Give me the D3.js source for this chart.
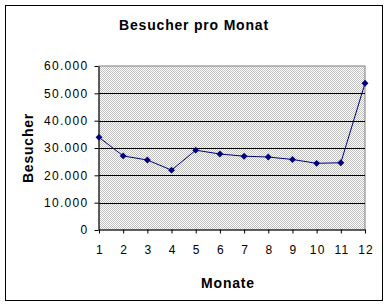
<!DOCTYPE html>
<html>
<head>
<meta charset="utf-8">
<script src="https://cdn.jsdelivr.net/npm/d3@7"></script>
<style>
  body { margin: 0; background: #fff; }
  svg { display: block; font-family: Arial, "Liberation Sans", sans-serif; }
</style>
</head>
<body>
<div id="chart"></div>
<script>
// data
const months = [1, 2, 3, 4, 5, 6, 7, 8, 9, 10, 11, 12];
const visitors = [33900, 27100, 25600, 21900, 29200, 27800, 27000, 26700, 25800, 24400, 24600, 53700];
const yTicks = [0, 10000, 20000, 30000, 40000, 50000, 60000];

const width = 391, height = 307;
const plot = { left: 99, right: 365, top: 66, bottom: 230 };

const svg = d3.select('#chart').append('svg')
  .attr('width', width)
  .attr('height', height);

// checker pattern like the old office fill
const pat = svg.append('defs').append('pattern')
  .attr('id', 'checker')
  .attr('width', 2).attr('height', 2)
  .attr('patternUnits', 'userSpaceOnUse');
pat.append('rect').attr('width', 2).attr('height', 2).attr('fill', '#fff');
pat.append('rect').attr('width', 1).attr('height', 1).attr('fill', '#c0c0c0');
pat.append('rect').attr('x', 1).attr('y', 1).attr('width', 1).attr('height', 1).attr('fill', '#c0c0c0');

// outer frame
svg.append('rect')
  .attr('x', 5.5).attr('y', 5.5)
  .attr('width', 377).attr('height', 295)
  .attr('fill', '#fff').attr('stroke', '#000');

const x = d3.scaleLinear().domain([1, 12]).range([plot.left, plot.right]);
const y = d3.scaleLinear().domain([0, 60000]).range([plot.bottom, plot.top]);

// plot area
svg.append('rect')
  .attr('x', plot.left).attr('y', plot.top)
  .attr('width', plot.right - plot.left).attr('height', plot.bottom - plot.top)
  .attr('fill', 'url(#checker)')
  .attr('stroke', '#808080');

// gridlines
svg.append('g')
  .selectAll('line')
  .data(yTicks.filter(d => d > 0 && d < 60000))
  .enter().append('line')
    .attr('x1', plot.left).attr('x2', plot.right)
    .attr('y1', d => Math.round(y(d)) + 0.5).attr('y2', d => Math.round(y(d)) + 0.5)
    .attr('stroke', '#000');

// axes
const fmt = d => d3.format(',')(d).replace(/,/g, '.');
const yAxis = svg.append('g')
  .attr('transform', `translate(${plot.left - 0.5},0)`)
  .call(d3.axisLeft(y).tickValues(yTicks).tickFormat(fmt).tickSize(4).tickSizeOuter(0));
const xAxis = svg.append('g')
  .attr('transform', `translate(0,${plot.bottom - 0.5})`)
  .call(d3.axisBottom(x).tickValues(months).tickSize(4).tickSizeOuter(0));

[yAxis, xAxis].forEach(a => {
  a.select('.domain').attr('stroke', '#000');
  a.selectAll('.tick line').attr('stroke', '#000');
  a.selectAll('text')
    .attr('fill', '#000')
    .style('font-size', '12px')
    .style('letter-spacing', '1.3px')
    .style('font-family', 'Arial, "Liberation Sans", sans-serif');
});
yAxis.selectAll('text').attr('x', -10);
xAxis.selectAll('text').attr('y', 16).attr('dx', '0.6px');

// line + markers
svg.append('path')
  .datum(visitors)
  .attr('fill', 'none')
  .attr('stroke', '#000080')
  .attr('stroke-width', 1)
  .attr('d', d3.line().x((d, i) => x(months[i])).y(d => y(d)));

svg.append('g')
  .selectAll('path')
  .data(visitors)
  .enter().append('path')
    .attr('d', d3.symbol().type(d3.symbolDiamond2).size(30))
    .attr('transform', (d, i) => `translate(${x(months[i])},${y(d)})`)
    .attr('fill', '#000080');

// titles
const bold = sel => sel
  .attr('text-anchor', 'middle')
  .style('font-size', '14px').style('font-weight', 'bold')
  .style('letter-spacing', '0.8px');

svg.append('text')
  .attr('x', 194).attr('y', 30)
  .call(bold)
  .text('Besucher pro Monat');

svg.append('text')
  .attr('x', 228).attr('y', 288)
  .call(bold)
  .text('Monate');

svg.append('text')
  .attr('transform', 'translate(33,148)rotate(-90)')
  .call(bold)
  .text('Besucher');
</script>
</body>
</html>
